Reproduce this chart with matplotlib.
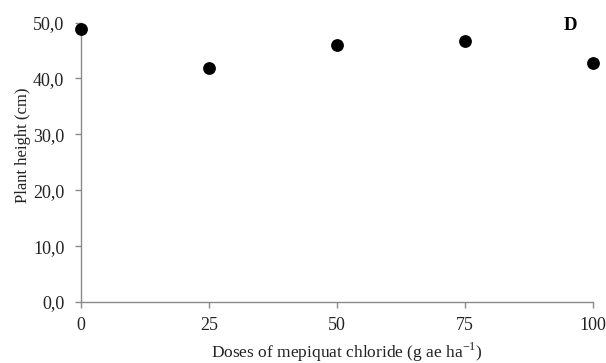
import matplotlib
matplotlib.use("Agg")
import matplotlib.pyplot as plt

doses = [0, 25, 50, 75, 100]
heights = [48.8, 41.9, 46.0, 46.7, 42.7]
yticks = [0, 10, 20, 30, 40, 50]
ytick_labels = ["0,0", "10,0", "20,0", "30,0", "40,0", "50,0"]
xticks = [0, 25, 50, 75, 100]

plt.rcParams['font.family'] = ['Liberation Serif', 'DejaVu Serif']
plt.rcParams['mathtext.fontset'] = 'custom'
plt.rcParams['mathtext.rm'] = 'Liberation Serif'

fig = plt.figure(figsize=(6.06, 3.63), dpi=100)
left, right = 81 / 606, 593 / 606
bottom, top = 1 - 302 / 363, 1 - 22.5 / 363
ax = fig.add_axes([left, bottom, right - left, top - bottom])
ax.scatter(doses, heights, s=85, color='black', zorder=3, clip_on=False, linewidths=0)
ax.set_xlim(0, 100)
ax.set_ylim(0, 50)
ax.set_xticks(xticks)
ax.set_xticklabels([str(x) for x in xticks])
ax.set_yticks(yticks)
ax.set_yticklabels(ytick_labels)
for s in ['top', 'right']:
    ax.spines[s].set_visible(False)
for s in ['left', 'bottom']:
    ax.spines[s].set_color('#8a8a8a')
    ax.spines[s].set_linewidth(1.0)
ax.tick_params(direction='out', length=4, width=1, color='#8a8a8a', labelsize=13, labelcolor='#222222')
ax.tick_params(axis='x', pad=7)
ax.tick_params(axis='y', pad=8)
ax.set_xlabel("Doses of mepiquat chloride (g ae ha$^{\\mathrm{-1}}$)", fontsize=12.5, color='#222222')
ax.xaxis.set_label_coords(0.52, -0.137)
ax.set_ylabel("Plant height (cm)", fontsize=12, color='#222222')
ax.yaxis.set_label_coords(-0.098, 0.562)
ax.text(0.955, 0.99, "D", transform=ax.transAxes, fontsize=13.5, fontweight='bold', ha='center', va='center')
fig.savefig("out.png", dpi=100)
